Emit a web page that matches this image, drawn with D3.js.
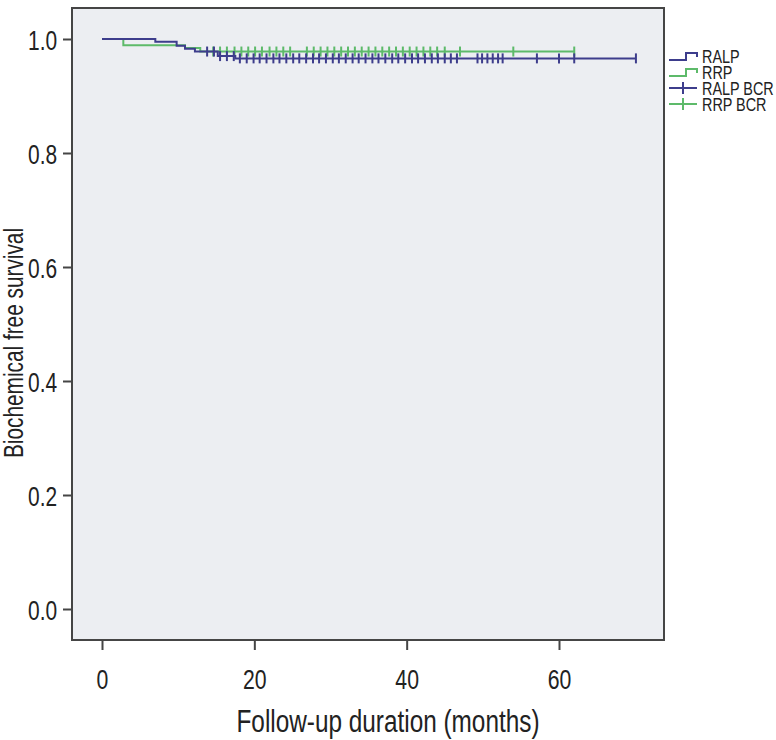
<!DOCTYPE html>
<html>
<head>
<meta charset="utf-8">
<script src="https://cdn.jsdelivr.net/npm/d3@7"></script>
<style>
  body { margin: 0; background: #fff; }
  text { font-family: "Liberation Sans", Arial, sans-serif; fill: #222; }
</style>
</head>
<body>
<svg id="chart" width="776" height="740"></svg>
<script>
// step points of each Kaplan-Meier curve (months, survival)
const ralpTimes = [0, 7.0, 9.8, 10.9, 12.2, 15.2, 17.5, 70.1]
const ralpSurv  = [1.0, 0.995, 0.988, 0.983, 0.978, 0.970, 0.966, 0.966]
const rrpTimes  = [0, 2.8, 10.9, 12.9, 62.0]
const rrpSurv   = [1.0, 0.989, 0.984, 0.978, 0.978]

// censored follow-up times (months)
const ralpCensor = [13.8, 14.7, 15.5, 16.4, 17.3, 18.1, 19.0, 19.9, 20.7, 21.6, 22.5, 23.3,
  24.2, 25.1, 25.9, 26.8, 27.7, 28.5, 29.4, 30.3, 31.1, 32.0, 32.9, 33.7, 34.6, 35.5, 36.3,
  37.2, 38.1, 38.9, 39.8, 40.7, 41.5, 42.4, 43.3, 44.1, 45.0, 45.8, 46.6, 49.3, 49.9, 50.6,
  51.3, 52.0, 52.6, 57.1, 60.0, 62.0, 70.1]
const rrpCensor = [14.6, 15.5, 16.4, 17.4, 18.3, 19.2, 20.1, 21.0, 22.0, 22.9, 23.8, 24.7,
  26.9, 27.8, 28.7, 29.6, 30.5, 31.4, 32.3, 33.2, 34.1, 35.0, 35.9, 36.8, 37.7, 38.6, 39.5,
  40.4, 41.3, 42.2, 43.1, 44.0, 45.0, 47.0, 54.0, 62.0]

const xTicks = [0, 20, 40, 60]
const yTicks = [0, 0.2, 0.4, 0.6, 0.8, 1.0]
const legendLabels = ["RALP", "RRP", "RALP BCR", "RRP BCR"]

const navy = "#3d3d8c", green = "#5dba6a"

const svg = d3.select("#chart")

const x = d3.scaleLinear().domain([0, 60]).range([102, 559])
const y = d3.scaleLinear().domain([0, 1]).range([609, 39])

// the original uses a condensed face: squeeze each glyph to a fixed width
function condense(sel, perChar) {
  sel.attr("textLength", function() { return this.textContent.length * perChar })
    .attr("lengthAdjust", "spacingAndGlyphs")
}

// plot frame
svg.append("rect")
  .attr("x", 72).attr("y", 8)
  .attr("width", 592).attr("height", 632)
  .attr("fill", "#eceef2")
  .attr("stroke", "#454545").attr("stroke-width", 2)

// axes
const xAxis = svg.append("g")
  .attr("transform", "translate(0,640)")
  .call(d3.axisBottom(x).tickValues(xTicks).tickSize(10))
const yAxis = svg.append("g")
  .attr("transform", "translate(72,0)")
  .call(d3.axisLeft(y).tickValues(yTicks).tickFormat(d3.format(".1f")).tickSize(9))

;[xAxis, yAxis].forEach(g => {
  g.select(".domain").remove()
  g.selectAll(".tick line").attr("stroke", "#454545").attr("stroke-width", 2)
  g.selectAll(".tick text").style("font-size", "28px").attr("fill", "#222").attr("dy", null)
})
xAxis.selectAll(".tick text").attr("y", 49).call(condense, 11.8)
yAxis.selectAll(".tick text").attr("x", -15).attr("y", 10)
  .attr("text-anchor", "start").attr("dx", -29)
  .call(condense, 9.7)

function survAt(times, surv, t) {
  let s = surv[0]
  times.forEach((tt, i) => { if (tt <= t) s = surv[i] })
  return s
}

const line = d3.line()
  .x(d => x(d[0]))
  .y(d => y(d[1]))
  .curve(d3.curveStepAfter)

const series = [
  {times: rrpTimes, surv: rrpSurv, censor: rrpCensor, color: green},
  {times: ralpTimes, surv: ralpSurv, censor: ralpCensor, color: navy}
]

series.forEach(s => {
  svg.append("path")
    .datum(s.times.map((t, i) => [t, s.surv[i]]))
    .attr("d", line)
    .attr("fill", "none")
    .attr("stroke", s.color)
    .attr("stroke-width", 2)

  svg.append("g").selectAll("line")
    .data(s.censor)
    .join("line")
    .attr("x1", d => x(d)).attr("x2", d => x(d))
    .attr("y1", d => y(survAt(s.times, s.surv, d)) - 5)
    .attr("y2", d => y(survAt(s.times, s.surv, d)) + 5)
    .attr("stroke", s.color)
    .attr("stroke-width", 2)
})

// legend
const legend = svg.append("g").attr("transform", "translate(669,0)")
const legendY = [56, 72, 88, 104]
const legendColors = [navy, green, navy, green]

legendLabels.forEach((lab, i) => {
  const ly = legendY[i]
  if (i < 2) {
    legend.append("path")
      .attr("d", `M0,${ly + 4}H17V${ly - 3}H28V${ly + 1}`)
      .attr("fill", "none").attr("stroke", legendColors[i]).attr("stroke-width", 2)
  } else {
    legend.append("path")
      .attr("d", `M0,${ly}H28M14,${ly - 6}V${ly + 6}`)
      .attr("fill", "none").attr("stroke", legendColors[i]).attr("stroke-width", 2)
  }
  // horizontal squeeze via transform instead of textLength
  legend.append("text")
    .attr("transform", `translate(33,${ly + 6.5}) scale(0.8,1)`)
    .style("font-size", "18px")
    .text(lab)
})

// axis titles
svg.append("text")
  .attr("x", 388).attr("y", 732)
  .attr("text-anchor", "middle")
  .attr("textLength", 303).attr("lengthAdjust", "spacingAndGlyphs")
  .style("font-size", "31px")
  .text("Follow-up duration (months)")

svg.append("text")
  .attr("transform", "translate(23,343) rotate(-90)")
  .attr("text-anchor", "middle")
  .attr("textLength", 230).attr("lengthAdjust", "spacingAndGlyphs")
  .style("font-size", "27px")
  .text("Biochemical free survival")
</script>
</body>
</html>
